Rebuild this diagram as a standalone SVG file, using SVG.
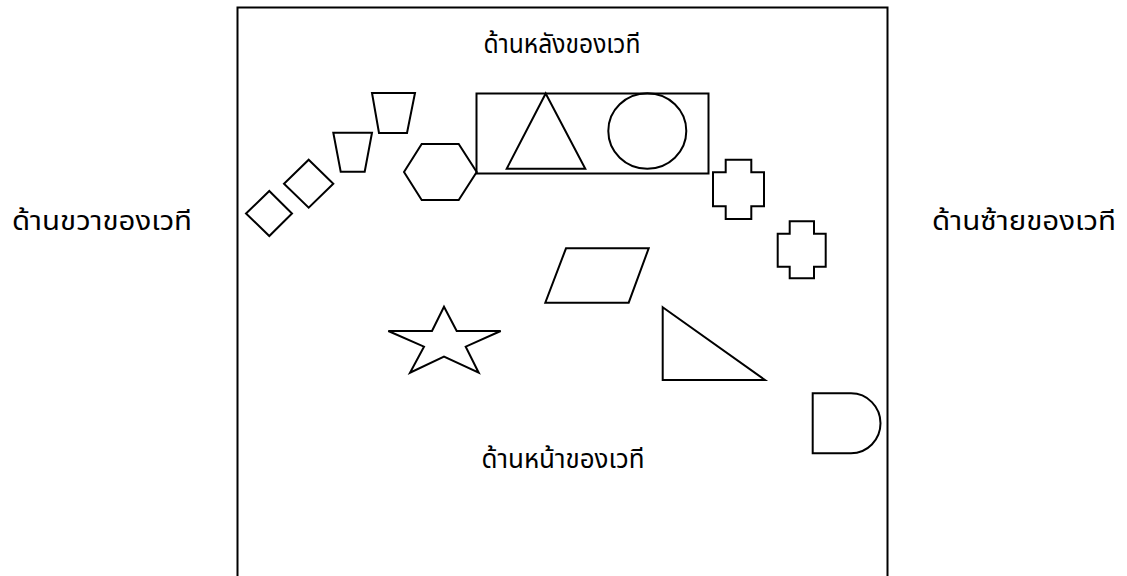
<svg xmlns="http://www.w3.org/2000/svg" width="1127" height="576" viewBox="0 0 1127 576">
<style>
.s{fill:none;stroke:#000;stroke-width:2;stroke-linejoin:miter}
.t{font-family:"Noto Sans Thai","Noto Sans","DejaVu Sans",sans-serif;font-size:27px;font-weight:normal;fill:#000;text-anchor:middle}
</style>
<rect width="1127" height="576" fill="#fff"/>
<g id="stage"><path class="s" d="M237.5,580 V7.5 H887.5 V580"/></g>
<g id="labels">
<text class="t" x="562" y="53" textLength="157" lengthAdjust="spacingAndGlyphs">ด้านหลังของเวที</text>
<text class="t" x="102" y="230" textLength="180" lengthAdjust="spacingAndGlyphs">ด้านขวาของเวที</text>
<text class="t" x="1024" y="230" textLength="184" lengthAdjust="spacingAndGlyphs">ด้านซ้ายของเวที</text>
<text class="t" x="563" y="468" textLength="163" lengthAdjust="spacingAndGlyphs">ด้านหน้าของเวที</text>
</g>
<g id="diamond2"><polygon class="s" points="269.3,191 292,213.5 269.3,236 246,213.5"/></g>
<g id="diamond1"><polygon class="s" points="308.7,159.7 333.3,183.7 308.7,207.7 284,183.7"/></g>
<g id="trapezoid2"><polygon class="s" points="333.3,132.7 372,132.7 364.7,171.7 340.7,171.7"/></g>
<g id="trapezoid1"><polygon class="s" points="372,93 415,93 407,133 379,133"/></g>
<g id="hexagon"><polygon class="s" points="404,172 421.7,144 458.7,144 476.7,172 458.7,200 421.7,200"/></g>
<g id="box"><rect class="s" x="476.5" y="93.5" width="232" height="80"/></g>
<g id="triangle"><polygon class="s" points="545.7,93.5 585.3,168.7 506.7,168.7"/></g>
<g id="circle"><ellipse class="s" cx="647.3" cy="131" rx="39" ry="37.7"/></g>
<g id="cross1"><polygon class="s" points="725.7,159.7 751.3,159.7 751.3,172.3 764,172.3 764,206.3 751.3,206.3 751.3,219 725.7,219 725.7,206.3 713,206.3 713,172.3 725.7,172.3"/></g>
<g id="cross2"><polygon class="s" points="789.7,221.3 814,221.3 814,233.7 825.7,233.7 825.7,266.7 814,266.7 814,278.3 789.7,278.3 789.7,266.7 777.7,266.7 777.7,233.7 789.7,233.7"/></g>
<g id="parallelogram"><polygon class="s" points="566,248.3 648.7,248.3 628.7,302.7 545.3,302.7"/></g>
<g id="star"><polygon class="s" points="444,306.7 456.7,331 500.7,331 465.7,346.7 478.7,372.7 444,356.7 410,372.7 424,346.7 388.3,331 432,331"/></g>
<g id="righttriangle"><polygon class="s" points="662.7,307.3 765,380 662.7,380"/></g>
<g id="dshape"><path class="s" d="M812.7,393.3 H851 A29.5,30 0 0 1 851,453.3 H812.7 Z"/></g>
</svg>
